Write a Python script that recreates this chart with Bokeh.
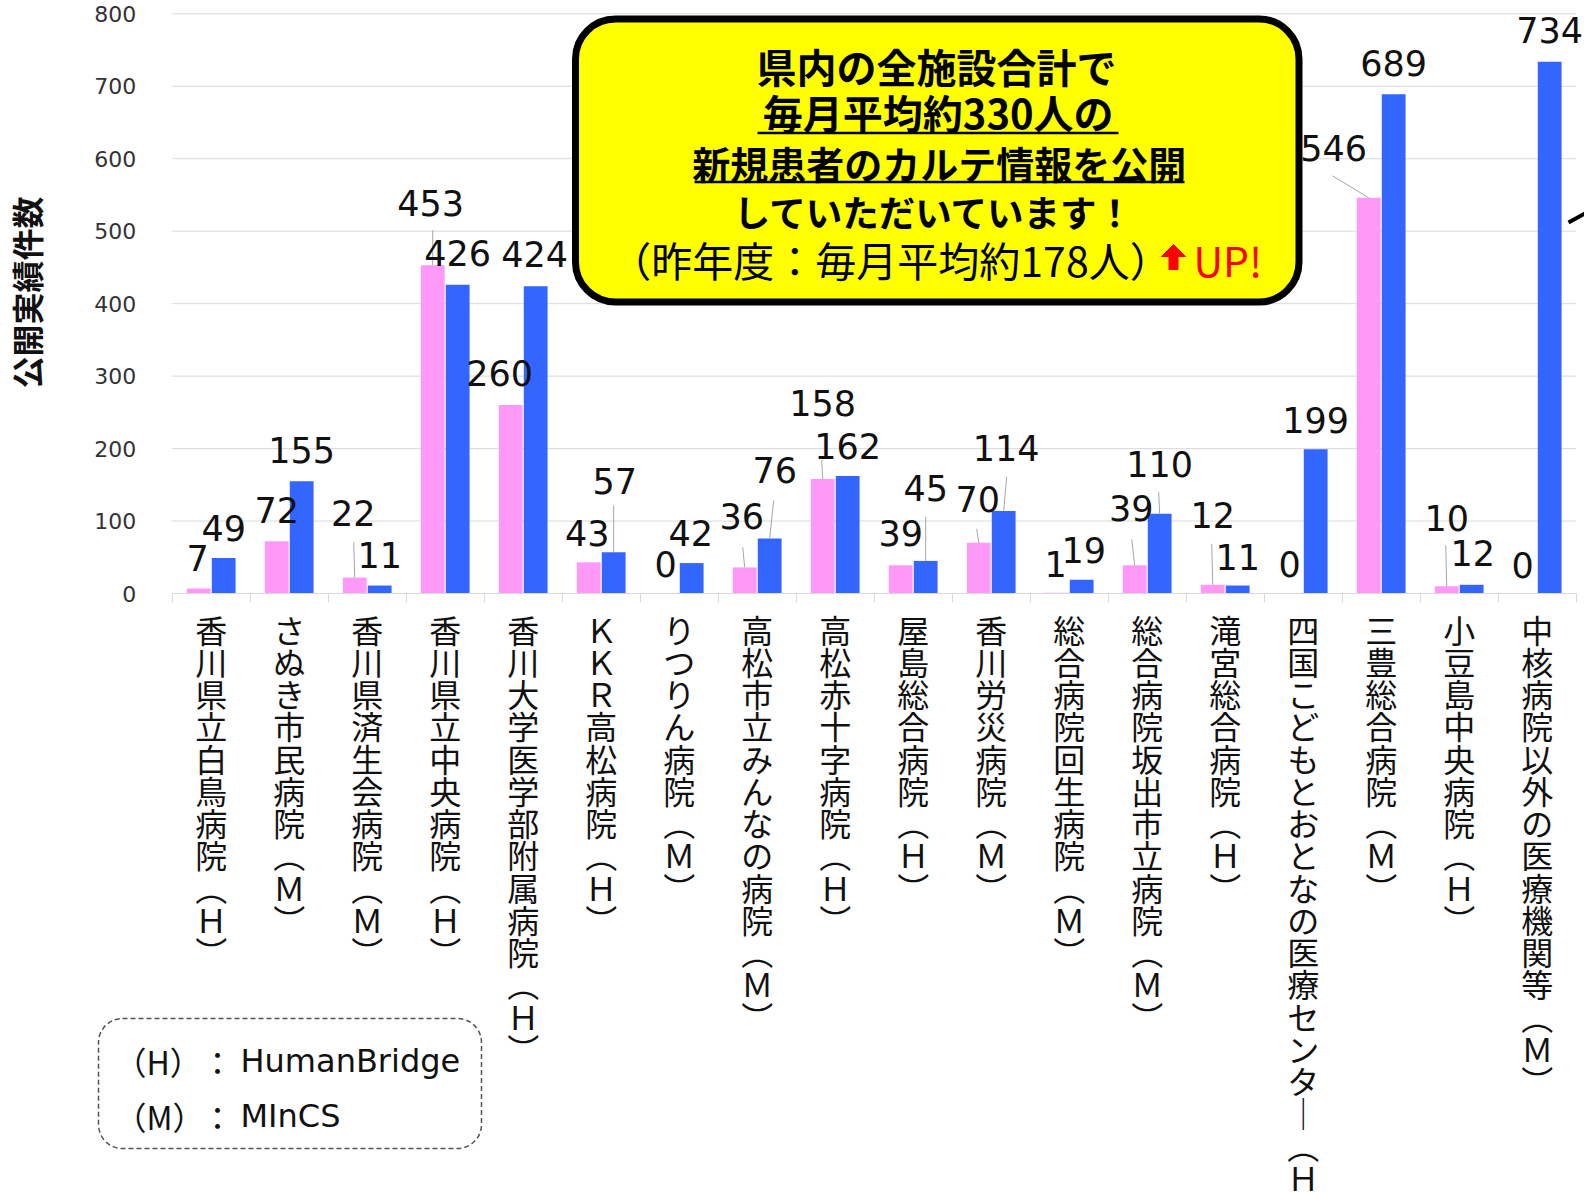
import math
from bokeh.plotting import figure
from bokeh.models import (Range1d, LinearAxis, FixedTicker, BoxAnnotation)
from bokeh.core.properties import value
from bokeh.embed import file_html
from bokeh.resources import INLINE

# ---------------- data ----------------
categories = [
    "香川県立白鳥病院（H）", "さぬき市民病院（M）", "香川県済生会病院（M）",
    "香川県立中央病院（H）", "香川大学医学部附属病院（H）", "KKR高松病院（H）",
    "りつりん病院（M）", "高松市立みんなの病院（M）", "高松赤十字病院（H）",
    "屋島総合病院（H）", "香川労災病院（M）", "総合病院回生病院（M）",
    "総合病院坂出市立病院（M）", "滝宮総合病院（H）",
    "四国こどもとおとなの医療センター（H）", "三豊総合病院（M）",
    "小豆島中央病院（H）", "中核病院以外の医療機関等（M）",
]
series_prev = [7, 72, 22, 453, 260, 43, 0, 36, 158, 39, 70, 1, 39, 12, 0, 546, 10, 0]
series_curr = [49, 155, 11, 426, 424, 57, 42, 76, 162, 45, 114, 19, 110, 11, 199, 689, 12, 734]
y_ticks = [0, 100, 200, 300, 400, 500, 600, 700, 800]
y_title = "公開実績件数"
callout_lines = ["県内の全施設合計で", "毎月平均約330人の", "新規患者のカルテ情報を公開", "していただいています！"]
callout_last = "（昨年度：毎月平均約178人）"
callout_up = "UP!"
legend_keys = ["（H）", "（M）"]
legend_names = ["HumanBridge", "MInCS"]

# ---------------- layout (positions / styles) ----------------
W, H = 1584, 1192
PX = 78.0          # px per category
X0 = 171.7         # canvas x of first category boundary
Y0 = 593.0         # canvas y of value 0
PY = 0.7246        # px per value unit
BAR_W = 0.305
BAR_OFF = 0.16
PINK = "#FF99F7"
BLUE = "#3366FF"
JP = "Noto Sans CJK JP"
NUM = "DejaVu Sans"

# label offsets (screen px, relative to bar top centre)
prev_off = [(-1, -30), (0, -31), (-1.5, -64.6), (-2, -62), (-11, -32), (-1.5, -29),
            (-1, -30), (-3, -51), (0, -76), (0, -32), (-1, -44), (-1, -29),
            (-3.5, -57), (0, -70), (-1, -30), (-35, -50), (0, -68), (-2, -29)]
curr_off = [(0, -30), (0, -31), (0, -31), (0, -32), (-1, -32), (1, -71),
            (-1, -30), (5, -68), (0, -30), (0, -73), (2.5, -63), (2, -30),
            (0, -50), (0, -29), (0, -29), (0, -31), (1, -32), (0, -32)]
prev_leaders = {2: (-1, -35), 3: (0, -35), 7: (-2, -20), 8: (-1, -19), 10: (-2, -14),
                12: (-3, -26), 13: (-1, -41), 15: (-36, -22), 16: (-1, -41)}
curr_leaders = {5: (0, -47), 7: (4, -38), 9: (0, -44), 10: (3, -34), 12: (-1, -22)}


def dx(px_x):
    return (px_x - X0) / PX


def dy(px_y):
    return (Y0 - px_y) / PY


VMAP = {"（": "︵", "）": "︶", "ー": "｜"}


def vertical(s):
    out = []
    for ch in s:
        if ch in VMAP:
            ch = VMAP[ch]
        elif "A" <= ch <= "Z":
            ch = chr(ord(ch) + 0xFEE0)
        out.append(ch)
    return "\n".join(out)


n = len(categories)
p = figure(width=W, height=H,
           x_range=Range1d(-X0 / PX, (W - X0) / PX),
           y_range=Range1d(-(H - Y0) / PY, Y0 / PY),
           x_axis_type=None, y_axis_type=None,
           toolbar_location=None, output_backend="svg",
           min_border=0, outline_line_color=None)
p.background_fill_color = "white"
p.border_fill_color = "white"

# grid lines
gy = y_ticks[1:]
p.segment(x0=[0] * len(gy), x1=[n] * len(gy), y0=gy, y1=gy,
          line_color="#d9d9d9", line_width=1, level="underlay")

# axes
yaxis = LinearAxis(fixed_location=0, bounds=(0, 800), ticker=FixedTicker(ticks=y_ticks),
                   axis_line_color=None, major_tick_line_color=None, minor_tick_line_color=None,
                   major_tick_in=0, major_tick_out=0,
                   major_label_standoff=36, major_label_text_font=NUM,
                   major_label_text_font_size="22px", major_label_text_color="#333333")
p.add_layout(yaxis, "left")
xaxis = LinearAxis(fixed_location=0, bounds=(0, n), ticker=FixedTicker(ticks=list(range(n + 1))),
                   axis_line_color="#d9d9d9", major_tick_line_color="#d9d9d9",
                   major_tick_in=0, major_tick_out=9, minor_tick_line_color=None,
                   major_label_overrides={i: "" for i in range(n + 1)})
p.add_layout(xaxis, "below")

# bars
xp = [i + 0.5 - BAR_OFF for i in range(n)]
xc = [i + 0.5 + BAR_OFF for i in range(n)]
p.vbar(x=xp, top=series_prev, bottom=0, width=BAR_W, fill_color=PINK, line_color=None)
p.vbar(x=xc, top=series_curr, bottom=0, width=BAR_W, fill_color=BLUE, line_color=None)

# leader lines
lx0, ly0, lx1, ly1 = [], [], [], []
for xs, vals, leaders in ((xp, series_prev, prev_leaders), (xc, series_curr, curr_leaders)):
    for i, (ox, oy) in leaders.items():
        lx0.append(xs[i]); ly0.append(vals[i])
        lx1.append(xs[i] + ox / PX); ly1.append(vals[i] - oy / PY)
p.segment(x0=lx0, y0=ly0, x1=lx1, y1=ly1, line_color="#a6a6a6", line_width=1)

# data labels
for xs, vals, offs in ((xp, series_prev, prev_off), (xc, series_curr, curr_off)):
    p.text(x=xs, y=vals, text=[str(v) for v in vals],
           x_offset=[o[0] for o in offs], y_offset=[o[1] for o in offs],
           text_align="center", text_baseline="middle",
           text_font=value(NUM), text_font_size="35px", text_color="#111111")

# category labels (vertical)
p.text(x=[i + 0.5 for i in range(n)], y=[dy(605.2)] * n, text=[vertical(c) for c in categories],
       text_align="center", text_baseline="top", text_font=value(JP),
       text_font_size="32px", text_line_height=0.701, text_color="#111111")

# y title
p.text(x=[dx(25)], y=[dy(292)], text=[y_title], angle=math.pi / 2,
       text_align="center", text_baseline="middle", text_font=value(JP),
       text_font_size="32px", text_font_style="bold", text_color="#111111")

# callout box
p.add_layout(BoxAnnotation(left=dx(575), right=dx(1298.5), top=dy(18.5), bottom=dy(301.5),
                           fill_color="#FFFF00", fill_alpha=1.0, line_color="black",
                           line_alpha=1.0, line_width=7, border_radius=40))
cy = [65, 111.7, 161.7, 211]
cx = [936, 937.7, 938.8, 934]
csize = ["40px", "40px", "38px", "36.5px"]
for x_, y_, t_, s_ in zip(cx, cy, callout_lines, csize):
    p.text(x=[dx(x_)], y=[dy(y_)], text=[t_],
           text_align="center", text_baseline="middle", text_font=value(JP),
           text_font_size=s_, text_font_style="bold", text_color="black", level="overlay")
p.segment(x0=[dx(757), dx(694)], x1=[dx(1118), dx(1184)],
          y0=[dy(132.5), dy(181.5)], y1=[dy(132.5), dy(181.5)],
          line_color="black", line_width=2.5, level="overlay")
p.text(x=[dx(890)], y=[dy(258)], text=[callout_last], text_align="center",
       text_baseline="middle", text_font=value(JP), text_font_size="41px",
       text_color="black", level="overlay")
ax = [1173, 1185, 1177.5, 1177.5, 1168.5, 1168.5, 1161]
ay = [244, 256, 256, 269, 269, 256, 256]
p.patch(x=[dx(v) for v in ax], y=[dy(v) for v in ay], fill_color="#FF0000",
        line_color="#FF0000", line_width=1, level="overlay")
p.text(x=[dx(1193)], y=[dy(258)], text=[callout_up], text_align="left",
       text_baseline="middle", text_font=value(JP), text_font_size="41px",
       text_color="#FF0000", level="overlay")

# small arrow piece at right edge
p.line(x=[dx(1568), dx(1588)], y=[dy(222), dy(211)], line_color="black", line_width=4)

# legend box
p.add_layout(BoxAnnotation(left=dx(98), right=dx(481), top=dy(1018), bottom=dy(1148),
                           fill_alpha=0, line_color="#555555", line_alpha=1.0, line_width=1.5,
                           line_dash="5 3", border_radius=24))
ly = [dy(1060), dy(1115)]
p.text(x=[dx(114), dx(114)], y=ly, text=legend_keys,
       text_align="left", text_baseline="middle",
       text_font=value(JP), text_font_size="32px", text_color="#111111")
p.text(x=[dx(217), dx(217)], y=ly, text=["：", "："],
       text_align="center", text_baseline="middle",
       text_font=value(JP), text_font_size="32px", text_color="#111111")
p.text(x=[dx(240), dx(240)], y=ly, text=legend_names,
       text_align="left", text_baseline="middle",
       text_font=value(NUM), text_font_size="32px", text_color="#111111")

open("out.html", "w").write(file_html(p, INLINE))
